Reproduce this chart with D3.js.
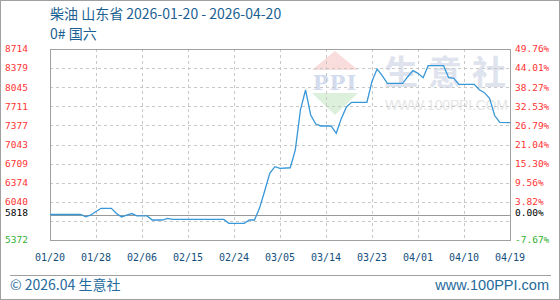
<!doctype html>
<html lang="zh">
<head>
<meta charset="UTF-8">
<title>柴油 山东省</title>
<script src="https://d3js.org/d3.v7.min.js"></script>
<style>
  body { margin: 0; background: #fff; }
</style>
</head>
<body>
<div id="chart-area"></div>
<script>
const W = 560;
const H = 300;

// price series: point index (trading point) and price
const pointIdx = [0, 6, 7, 8, 9, 10, 12, 13, 14, 15, 16, 17, 19, 20, 22, 23, 24, 34, 35, 38,
                  39, 40, 41, 42, 43, 44, 45, 47, 48, 49, 50, 51, 52, 53, 55, 56, 57, 58, 59, 62,
                  63, 64, 65, 66, 69, 70, 71, 72, 73, 74, 77, 78, 79, 80, 83, 84, 85, 86, 87, 88, 90];
const prices   = [5818, 5818, 5776, 5810, 5870, 5927, 5927, 5835, 5776, 5806, 5835, 5794, 5794, 5722, 5722, 5751, 5733, 5733, 5664, 5664,
                  5722, 5722, 5930, 6230, 6540, 6655, 6627, 6636, 6950, 7650, 7997, 7560, 7400, 7367, 7367, 7239, 7500, 7700, 7781, 7781,
                  8150, 8364, 8250, 8114, 8114, 8229, 8335, 8288, 8212, 8422, 8422, 8212, 8201, 8096, 8096, 8000, 7950, 7850, 7550, 7430, 7425];

const xLabels = ['01/20', '01/28', '02/06', '02/15', '02/24', '03/05', '03/14', '03/23', '04/01', '04/10', '04/19'];
const xLabelIdx = [0, 9, 18, 27, 36, 45, 54, 63, 72, 81, 90];

const yTicks  = [8714, 8379, 8045, 7711, 7377, 7043, 6709, 6374, 6040, 5706, 5372];
const yLabels = ['8714', '8379', '8045', '7711', '7377', '7043', '6709', '6374', '6040', '', '5372'];
const pctLabels = ['49.76%', '44.01%', '38.27%', '32.53%', '26.79%', '21.04%', '15.30%', '9.56%', '3.82%', '', '-7.67%'];
const basePrice = 5818;

const svg = d3.select('#chart-area')
    .append('svg')
    .attr('width', W)
    .attr('height', H);

svg.append('rect')
    .attr('x', 0.5).attr('y', 0.5)
    .attr('width', W - 1).attr('height', H - 1)
    .attr('fill', '#fff')
    .attr('stroke', '#a0a0a0');

const plotL = 50, plotR = 510, plotT = 49, plotB = 240;

const x = d3.scaleLinear().domain([0, 90]).range([plotL, plotR]);
const y = d3.scaleLinear().domain([5372, 8714]).range([plotB, plotT]);

// title
svg.append('text')
    .attr('x', 50).attr('y', 19)
    .attr('font-family', '"Noto Sans CJK SC", sans-serif')
    .attr('font-size', 14)
    .attr('fill', '#1b5f92')
    .text('柴油 山东省 2026-01-20 - 2026-04-20');
svg.append('text')
    .attr('x', 50).attr('y', 39)
    .attr('font-family', '"Noto Sans CJK SC", sans-serif')
    .attr('font-size', 14)
    .attr('fill', '#1b5f92')
    .text('0# 国六');

// watermark
const wm = svg.append('g');
wm.append('path')
    .attr('d', 'M335,51 L358,70 L312,70 Z')
    .attr('fill', '#f9dcdc');
wm.append('path')
    .attr('d', 'M312,93 L358,93 L335,115 Z')
    .attr('fill', '#dcf0dc');
wm.append('text')
    .attr('x', 335).attr('y', 90)
    .attr('text-anchor', 'middle')
    .attr('font-family', '"DejaVu Serif", serif')
    .attr('font-weight', 'bold')
    .attr('font-size', 21)
    .attr('letter-spacing', 1)
    .attr('fill', '#d3dcee')
    .text('PPI');
wm.append('text')
    .attr('x', 384).attr('y', 85)
    .attr('font-family', '"Noto Sans CJK SC", sans-serif')
    .attr('font-weight', 'bold')
    .attr('font-size', 34)
    .attr('letter-spacing', 10)
    .attr('fill', '#dfe3ee')
    .text('生意社');
wm.append('text')
    .attr('x', 385).attr('y', 110)
    .attr('font-family', '"Liberation Sans", sans-serif')
    .attr('font-size', 14)
    .attr('textLength', 123)
    .attr('fill', '#e6e6e6')
    .text('WWW.100PPI.COM');

// grid
const grid = svg.append('g')
    .attr('stroke', '#c8c8c8')
    .attr('stroke-dasharray', '3,3');
grid.selectAll('line.h')
    .data(yTicks.slice(1, -1))
    .enter().append('line')
    .attr('x1', plotL).attr('x2', plotR)
    .attr('y1', d => Math.round(y(d)) + 0.5)
    .attr('y2', d => Math.round(y(d)) + 0.5);
grid.selectAll('line.v')
    .data(xLabelIdx.slice(1, -1))
    .enter().append('line')
    .attr('y1', plotT).attr('y2', plotB)
    .attr('x1', d => Math.round(x(d)) + 0.5)
    .attr('x2', d => Math.round(x(d)) + 0.5);

// base line
svg.append('line')
    .attr('x1', plotL).attr('x2', plotR)
    .attr('y1', Math.round(y(basePrice)) + 0.5)
    .attr('y2', Math.round(y(basePrice)) + 0.5)
    .attr('stroke', '#999');

// frame
svg.append('rect')
    .attr('x', plotL + 0.5).attr('y', plotT + 0.5)
    .attr('width', plotR - plotL).attr('height', plotB - plotT)
    .attr('fill', 'none')
    .attr('stroke', '#a0a0a0');

// price line
const line = d3.line()
    .x((d, i) => x(pointIdx[i]))
    .y(d => y(d));
svg.append('path')
    .datum(prices)
    .attr('d', line)
    .attr('fill', 'none')
    .attr('stroke', '#3797d8')
    .attr('stroke-width', 1.3);

// y labels
const labelFont = '"DejaVu Sans Mono", monospace';
const colorFor = (d) => d < basePrice ? '#33b033' : '#ff3333';

svg.append('g').selectAll('text')
    .data(yTicks)
    .enter().append('text')
    .attr('x', 5)
    .attr('y', d => y(d))
    .attr('dy', '0.35em')
    .attr('font-family', labelFont)
    .attr('font-size', 9.5)
    .attr('fill', colorFor)
    .text((d, i) => yLabels[i]);

svg.append('g').selectAll('text')
    .data(yTicks)
    .enter().append('text')
    .attr('x', 515)
    .attr('y', d => y(d))
    .attr('dy', '0.35em')
    .attr('font-family', labelFont)
    .attr('font-size', 9.5)
    .attr('fill', colorFor)
    .text((d, i) => pctLabels[i]);

// base labels
svg.append('text')
    .attr('x', 5).attr('y', y(basePrice) - 2)
    .attr('dy', '0.35em')
    .attr('font-family', labelFont)
    .attr('font-size', 9.5)
    .attr('fill', '#000')
    .text(String(basePrice));
svg.append('text')
    .attr('x', 515).attr('y', y(basePrice) - 2)
    .attr('dy', '0.35em')
    .attr('font-family', labelFont)
    .attr('font-size', 9.5)
    .attr('fill', '#000')
    .text('0.00%');

// x labels
svg.append('g').selectAll('text')
    .data(xLabels)
    .enter().append('text')
    .attr('x', (d, i) => x(xLabelIdx[i]))
    .attr('y', 257)
    .attr('dy', '0.35em')
    .attr('text-anchor', 'middle')
    .attr('font-family', labelFont)
    .attr('font-size', 10)
    .attr('fill', '#134f7d')
    .text(d => d);

// footer
svg.append('line')
    .attr('x1', 10).attr('x2', 551)
    .attr('y1', 275.5).attr('y2', 275.5)
    .attr('stroke', '#a0a0a0');
svg.append('text')
    .attr('x', 10).attr('y', 290)
    .attr('font-family', '"Noto Sans CJK SC", sans-serif')
    .attr('font-size', 14)
    .attr('fill', '#256a9c')
    .text('© 2026.04 生意社');
svg.append('text')
    .attr('x', 549).attr('y', 290)
    .attr('text-anchor', 'end')
    .attr('font-family', '"Liberation Sans", sans-serif')
    .attr('font-size', 14.5)
    .attr('fill', '#256a9c')
    .text('www.100PPI.com');
</script>
</body>
</html>
